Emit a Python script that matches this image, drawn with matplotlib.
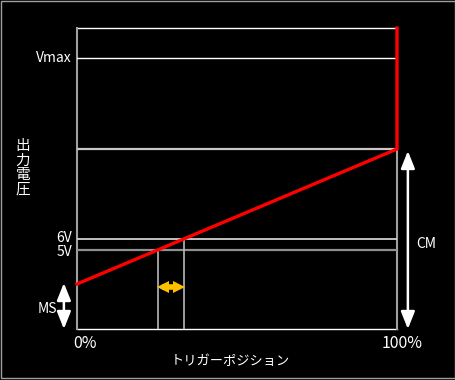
import matplotlib
matplotlib.use("Agg")
import matplotlib.pyplot as plt
from matplotlib.patches import Rectangle

plt.rcParams['font.family'] = ['Noto Sans CJK JP', 'DejaVu Sans']

# levels (arbitrary units, bottom of chart = 0)
x_range = [0, 100]          # trigger position, %
ms_level = 45               # output at 0% (MS)
cm_level = 180              # output at 100% (MS + CM)
v5_level = 79
v6_level = 90
vmax_level = 271
top_level = 301

y_labels = ["Vmax", "6V", "5V"]
x_labels = ["0%", "100%"]

# where the red line crosses 5V and 6V
slope = (cm_level - ms_level) / (x_range[1] - x_range[0])
x5 = (v5_level - ms_level) / slope
x6 = (v6_level - ms_level) / slope

fig = plt.figure(figsize=(4.55, 3.8), dpi=100)
fig.patch.set_facecolor('black')
ax = fig.add_axes([77 / 455, 51 / 380, 320 / 455, 301 / 380])
ax.set_facecolor('black')
ax.set_xlim(x_range)
ax.set_ylim(0, top_level)
ax.axis('off')

# frame lines
ax.plot([0, 100], [top_level, top_level], color='white', lw=1.0, clip_on=False)
ax.plot([0, 100], [0, 0], color='white', lw=1.0, clip_on=False)
ax.plot([0, 0], [0, top_level], color='#a0a0a0', lw=1.5, clip_on=False)
ax.plot([100, 100], [0, cm_level], color='#a0a0a0', lw=1.5, clip_on=False)

# horizontal levels
ax.plot([0, 100], [vmax_level, vmax_level], color='white', lw=1.0)
ax.plot([0, 100], [cm_level, cm_level], color='#c8c8c8', lw=1.6)
ax.plot([0, 100], [v6_level, v6_level], color='#d0d0d0', lw=1.3)
ax.plot([0, 100], [v5_level, v5_level], color='#909090', lw=1.6)

# verticals at the crossings
ax.plot([x5, x5], [0, v5_level], color='#b8b8b8', lw=1.2)
ax.plot([x6, x6], [0, v6_level], color='#b8b8b8', lw=1.2)

# output voltage line
ax.plot([0, 100, 100], [ms_level, cm_level, top_level],
        color='#ff0000', lw=2.4, solid_joinstyle='miter', clip_on=False, zorder=5)

# orange double arrow between the two crossings
arrow_y = 42
ax.plot([x5 + 1.5, x6 - 1.5], [arrow_y, arrow_y], color='#ffc000', lw=4.0,
        solid_capstyle='butt')
ax.plot([x5 + 1.6], [arrow_y], marker='<', ms=9, color='#ffc000', mew=0)
ax.plot([x6 - 1.6], [arrow_y], marker='>', ms=9, color='#ffc000', mew=0)

# MS and CM arrows
head = 'head_length=0.75,head_width=0.3'
ax.annotate('', xy=(-4.1, 0), xytext=(-4.1, ms_level + 1),
            arrowprops=dict(arrowstyle='<|-|>,' + head,
                            color='white', lw=1.8, shrinkA=0, shrinkB=0,
                            mutation_scale=14), annotation_clip=False)
ax.annotate('', xy=(103.4, 0), xytext=(103.4, cm_level - 2),
            arrowprops=dict(arrowstyle='<|-|>,' + head,
                            color='white', lw=1.8, shrinkA=0, shrinkB=0,
                            mutation_scale=14), annotation_clip=False)

# labels
tc = dict(color='white', fontsize=10)
ax.text(-1.6, vmax_level, y_labels[0], ha='right', va='center', **tc)
ax.text(-1.6, v6_level + 1.5, y_labels[1], ha='right', va='center', **tc)
ax.text(-1.6, v5_level - 1.5, y_labels[2], ha='right', va='center', **tc)
ax.text(-6.3, 20, 'MS', ha='right', va='center', **tc)
ax.text(106.0, 85, 'CM', ha='left', va='center', **tc)
ax.text(2.5, -14, x_labels[0], ha='center', va='center', color='white', fontsize=11.5)
ax.text(101.6, -14, x_labels[1], ha='center', va='center', color='white', fontsize=11.5)
ax.text(48, -33, 'トリガーポジション', ha='center', va='center', color='white', fontsize=9.5)
fig.text(23 / 455, 1 - 168 / 380, '出\n力\n電\n圧', ha='center', va='center',
         color='white', fontsize=10.5, linespacing=1.05)

# thin gray border around the picture
fig.add_artist(Rectangle((0.5 / 455, 2 / 380), 454 / 455, 377.5 / 380,
                         transform=fig.transFigure, fill=False,
                         edgecolor='#a0a0a0', lw=1.0))

fig.savefig('out.png', dpi=100, facecolor='black')
